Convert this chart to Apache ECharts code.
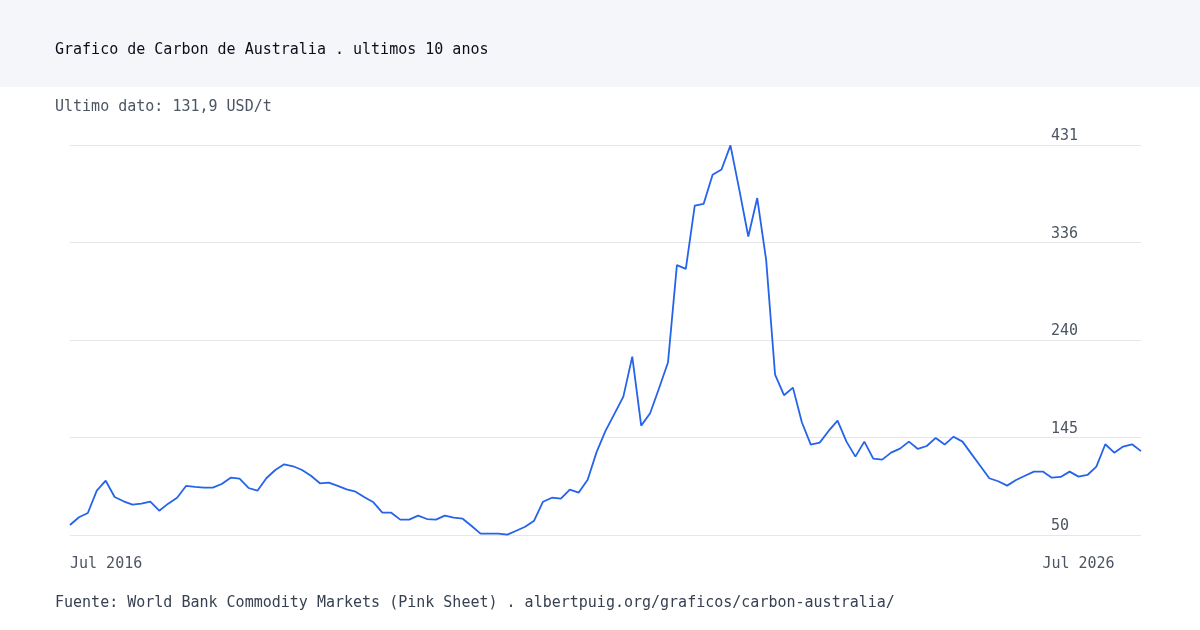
<!DOCTYPE html>
<html>
<head>
<meta charset="utf-8">
<script src="https://cdn.jsdelivr.net/npm/echarts@6/dist/echarts.min.js"></script>
<style>
  html, body { margin: 0; padding: 0; background: #ffffff; }
  #chart { width: 1200px; height: 630px; }
</style>
</head>
<body>
<div id="chart"></div>
<script>
// ---- Data (monthly prices, USD/t) ----
const prices = [
  59.8, 67.3, 71.5, 93.3, 103, 87.1, 82.9, 79.6, 80.6, 82.5,
  73.7, 80.6, 86.4, 97.9, 96.9, 96.2, 96.2, 99.8, 106, 105,
  95.9, 93.3, 105.4, 113.5, 119, 117.1, 113.5, 107.9, 100.5, 101.1,
  97.9, 94.6, 92.3, 86.8, 81.9, 71.8, 71.8, 65, 65, 68.9,
  65.6, 65, 68.9, 66.9, 65.9, 58.8, 51.3, 51.3, 51.3, 50.3,
  54.2, 58.1, 64, 82.5, 86.4, 85.5, 94.3, 91.4, 104, 130.9,
  151.6, 168.2, 185.1, 224.2, 156.8, 168.9, 193.3, 218.4, 313.5, 309.9,
  371.7, 373.4, 401.7, 406.9, 430.4, 386.7, 341.5, 379, 318.7, 206.5,
  186.5, 193.9, 160.1, 138.2, 140.2, 151.6, 161.7, 141.2, 126.5, 141.2,
  124.5, 123.6, 130.4, 134.3, 141.2, 134, 136.9, 144.8, 138.3, 146,
  141.2, 129.2, 117.4, 105.4, 102.5, 98.2, 103.7, 107.9, 111.9, 111.9,
  106, 106.7, 111.9, 107, 108.6, 116.7, 138.6, 130.4, 136.3, 138.6,
  131.9
];

const monthNames = ['Jan','Feb','Mar','Apr','May','Jun','Jul','Aug','Sep','Oct','Nov','Dec'];
const categories = prices.map((_, i) => {
  const m = (6 + i) % 12;
  const y = 2016 + Math.floor((6 + i) / 12);
  return monthNames[m] + ' ' + y;
});

// x tick labels shown on the axis
const xTickIndex = [0, 113];
const xTickLabels = ['Jul 2016', 'Jul 2026'];

// y axis ticks (labels 50, 145, 240, 336, 431)
const yMin = 50;
const yMax = 430.8;
const yStep = 95.2;

const titleText = 'Grafico de Carbon de Australia . ultimos 10 anos';
const subtitleText = 'Ultimo dato: 131,9 USD/t';
const footerText = 'Fuente: World Bank Commodity Markets (Pink Sheet) . albertpuig.org/graficos/carbon-australia/';

const FONT = "'DejaVu Sans Mono', monospace";

const chart = echarts.init(document.getElementById('chart'), null, { renderer: 'canvas' });

chart.setOption({
  backgroundColor: '#ffffff',
  animation: false,
  graphic: [
    {
      type: 'rect',
      left: 0, top: 0, z: -10,
      shape: { x: 0, y: 0, width: 1200, height: 87 },
      style: { fill: '#f5f6fa' },
      silent: true
    }
  ],
  title: [
    {
      text: titleText,
      left: 50, top: 36,
      textStyle: { fontFamily: FONT, fontSize: 15, fontWeight: 'normal', color: '#0b0f19', lineHeight: 18 }
    },
    {
      text: subtitleText,
      left: 50, top: 93,
      textStyle: { fontFamily: FONT, fontSize: 15, fontWeight: 'normal', color: '#4b5563', lineHeight: 18 }
    },
    {
      text: footerText,
      left: 50, top: 589,
      textStyle: { fontFamily: FONT, fontSize: 15, fontWeight: 'normal', color: '#374151', lineHeight: 18 }
    }
  ],
  grid: { left: 70, right: 59, top: 145, bottom: 95, containLabel: false },
  xAxis: {
    type: 'category',
    data: categories,
    boundaryGap: false,
    axisLine: { show: false },
    axisTick: { show: false },
    splitLine: { show: false },
    axisLabel: {
      show: true,
      interval: (index) => xTickIndex.includes(index),
      formatter: (value, index) => {
        const k = xTickIndex.indexOf(index);
        return k >= 0 ? xTickLabels[k] : '';
      },
      alignMinLabel: 'left',
      margin: 22,
      fontFamily: FONT,
      fontSize: 15,
      color: '#4b5563'
    }
  },
  yAxis: {
    type: 'value',
    position: 'right',
    min: yMin,
    max: yMax,
    interval: yStep,
    axisLine: { show: false },
    axisTick: { show: false },
    splitLine: { show: true, lineStyle: { color: '#e3e6eb', width: 1 } },
    axisLabel: {
      inside: true,
      margin: 90,
      align: 'left',
      verticalAlign: 'bottom',
      padding: [0, 0, 1, 0],
      fontFamily: FONT,
      fontSize: 15,
      color: '#4b5563',
      formatter: (v) => String(Math.round(v))
    }
  },
  series: [
    {
      type: 'line',
      data: prices,
      showSymbol: false,
      symbol: 'none',
      lineStyle: { color: '#2563eb', width: 1.8 },
      itemStyle: { color: '#2563eb' }
    }
  ]
});
</script>
</body>
</html>
